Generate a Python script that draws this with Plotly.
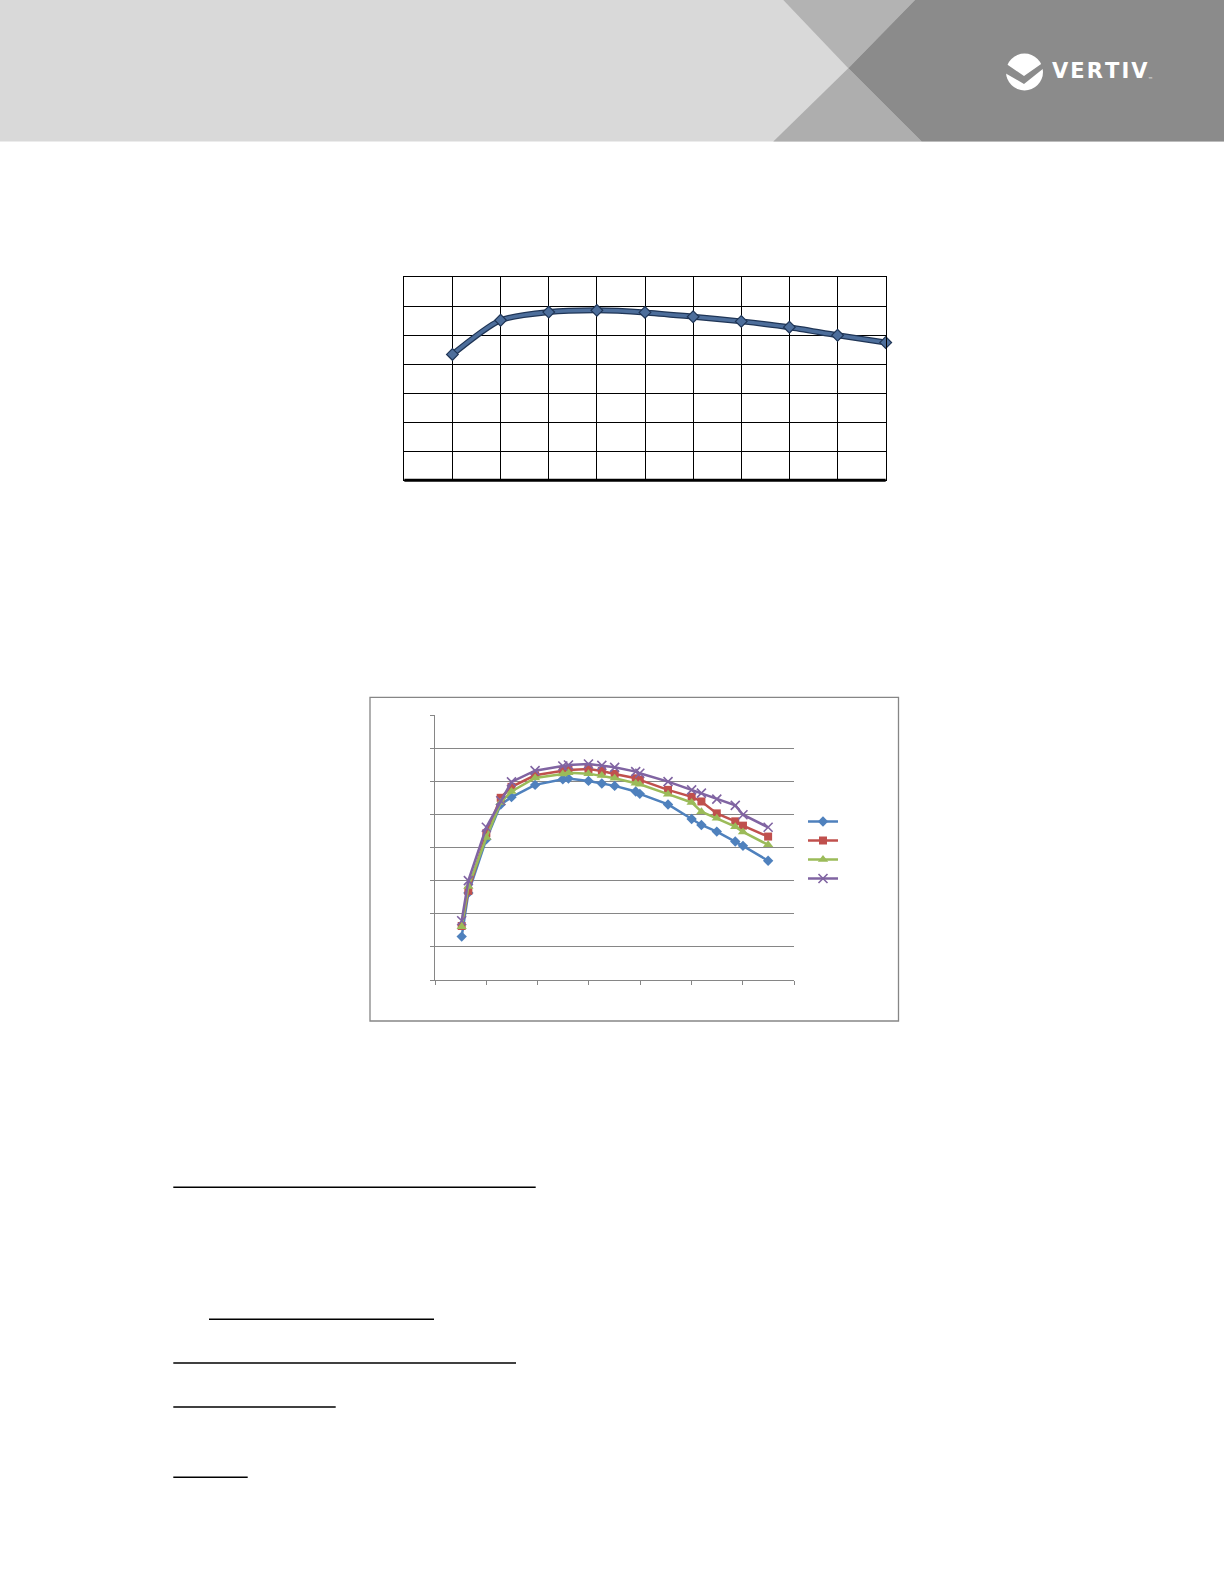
import plotly.graph_objects as go

# page size in px, used to place everything in paper coordinates
W, H = 1224, 1584


def px(x):
    return x / W


def py(y):
    return 1 - y / H


# --- top chart: single curve on a 10 x 7 grid
load_pct = [10, 20, 30, 40, 50, 60, 70, 80, 90, 100]
efficiency = [43.4, 55.2, 58.0, 58.6, 57.9, 56.4, 54.8, 52.8, 50.0, 47.5]

# --- bottom chart: four series against the same x values
x_vals = [5.2, 6.5, 10.0, 12.8, 14.9, 19.5, 24.9, 26.0, 29.9, 32.5,
          35.0, 39.1, 39.9, 45.4, 50.0, 51.9, 54.9, 58.5, 60.0, 64.9]
blue_vals = [13.1, 26.3, 42.5, 53.0, 55.2, 58.9, 60.6, 60.8, 60.1, 59.3,
             58.6, 56.9, 56.2, 53.0, 48.6, 46.8, 44.8, 41.8, 40.5, 36.0]
red_vals = [16.3, 26.9, 44.3, 55.0, 58.3, 61.8, 63.2, 63.4, 63.7, 63.1,
            62.2, 60.9, 60.4, 57.4, 55.3, 53.9, 50.3, 47.9, 46.6, 43.3]
green_vals = [16.1, 28.2, 43.0, 53.6, 56.9, 61.0, 62.2, 62.6, 62.3, 61.7,
              60.9, 59.4, 59.1, 56.1, 53.6, 50.8, 48.8, 46.3, 44.7, 40.8]
purple_vals = [17.9, 30.0, 46.1, 54.1, 59.8, 63.2, 64.6, 64.9, 65.2, 64.8,
               64.2, 62.9, 62.4, 59.9, 57.4, 56.4, 54.6, 52.7, 49.9, 46.1]

series = [
    (blue_vals, "#4f81bd", "diamond", 8),
    (red_vals, "#c0504d", "square", 8),
    (green_vals, "#9bbb59", "triangle-up", 9),
    (purple_vals, "#8064a2", "x-thin", 9),
]

fig = go.Figure()

# top curve: dark outline under a lighter stroke
fig.add_trace(go.Scatter(
    x=load_pct, y=efficiency, mode="lines",
    line=dict(color="#1f3556", width=6, shape="spline", smoothing=0.7),
    showlegend=False, hoverinfo="skip", cliponaxis=False,
))
fig.add_trace(go.Scatter(
    x=load_pct, y=efficiency, mode="lines+markers",
    line=dict(color="#4d6e9b", width=3.5, shape="spline", smoothing=0.7),
    marker=dict(symbol="diamond", size=9, color="#4d6e9b",
                line=dict(color="#1f3556", width=1.2)),
    showlegend=False, cliponaxis=False,
))

for vals, color, symbol, size in series:
    if symbol == "x-thin":
        marker = dict(symbol=symbol, size=size, color=color,
                      line=dict(color=color, width=1.6))
    else:
        marker = dict(symbol=symbol, size=size, color=color)
    fig.add_trace(go.Scatter(
        x=x_vals, y=vals, mode="lines+markers", name="",
        line=dict(color=color, width=2.5),
        marker=marker, xaxis="x2", yaxis="y2", cliponaxis=False,
    ))

shapes = []

# header band
shapes.append(dict(type="rect", xref="paper", yref="paper",
                   x0=0, x1=1, y0=py(141.5), y1=1,
                   fillcolor="#d9d9d9", line=dict(width=0), layer="below"))


def poly(points, fill, layer="below"):
    d = "M " + " L ".join(f"{px(a)},{py(b)}" for a, b in points) + " Z"
    return dict(type="path", xref="paper", yref="paper", path=d,
                fillcolor=fill, line=dict(width=0), layer=layer)


shapes.append(poly([(783.3, 0), (915, 0), (848.3, 68.3)], "#b3b3b3"))
shapes.append(poly([(848.3, 68.3), (921.7, 141.5), (773.3, 141.5)], "#aeaeae"))
shapes.append(poly([(915, 0), (1224, 0), (1224, 141.5), (921.7, 141.5),
                    (848.3, 68.3)], "#8b8b8b"))

# logo mark: white disc with a grey chevron cut through it
shapes.append(dict(type="circle", xref="paper", yref="paper",
                   x0=px(1006), x1=px(1043), y0=py(90.5), y1=py(53.5),
                   fillcolor="white", line=dict(width=0)))
shapes.append(poly([(1005, 63), (1024, 76), (1044, 62), (1044, 68),
                    (1024, 84), (1005, 73)], "#8b8b8b", layer="above"))

# top chart thick base line
shapes.append(dict(type="line", xref="paper", yref="paper",
                   x0=px(404.3), x1=px(885.7), y0=py(480.3), y1=py(480.3),
                   line=dict(color="black", width=3)))

# bottom chart frame
shapes.append(dict(type="rect", xref="paper", yref="paper",
                   x0=px(370), x1=px(898.5), y0=py(1021), y1=py(697.3),
                   line=dict(color="#868686", width=1.3), layer="below"))

# underlines further down the page
for x0, x1, y in [(173.3, 535.7, 1187.3), (209, 434, 1319.3),
                  (173.3, 516, 1363), (173.3, 335.7, 1407),
                  (173.3, 247.7, 1477.3)]:
    shapes.append(dict(type="line", xref="paper", yref="paper",
                       x0=px(x0), x1=px(x1), y0=py(y), y1=py(y),
                       line=dict(color="black", width=1.4)))

annotations = [
    dict(text="<b>V\u200aE\u200aR\u200aT\u200aI\u200aV</b>", x=px(1050),
         y=py(70.5), xref="paper", yref="paper", xanchor="left",
         yanchor="middle", showarrow=False,
         font=dict(family="DejaVu Sans", size=21, color="white")),
    dict(text="™", x=px(1146), y=py(79.5), xref="paper", yref="paper",
         xanchor="left", yanchor="middle", showarrow=False,
         font=dict(family="DejaVu Sans", size=5, color="white")),
]

grid_top = dict(showgrid=True, gridcolor="black", gridwidth=1.3,
                showline=True, linecolor="black", linewidth=1.3, mirror=True,
                zeroline=False, showticklabels=False, ticks="")

fig.update_layout(
    width=W, height=H,
    margin=dict(l=0, r=0, t=0, b=0),
    paper_bgcolor="white", plot_bgcolor="white",
    xaxis=dict(domain=[px(404.3), px(885.7)], range=[0, 100], dtick=10,
               anchor="y", **grid_top),
    yaxis=dict(domain=[py(480.3), py(277.3)], range=[0, 70], dtick=10,
               anchor="x", **grid_top),
    xaxis2=dict(domain=[px(435), px(794.3)], range=[0, 70], dtick=10,
                anchor="y2", showgrid=False, zeroline=False,
                showline=True, linecolor="#868686", linewidth=1,
                ticks="outside", ticklen=4, tickcolor="#868686",
                showticklabels=False),
    yaxis2=dict(domain=[py(980), py(715)], range=[0, 80], dtick=10,
                anchor="x2", showgrid=True, gridcolor="#868686", gridwidth=1,
                zeroline=False, showline=True, linecolor="#868686",
                linewidth=1, ticks="outside", ticklen=4, tickcolor="#868686",
                showticklabels=False),
    showlegend=True,
    legend=dict(x=px(803), y=py(807), xanchor="left", yanchor="top",
                font=dict(size=12, color="white"), bgcolor="rgba(0,0,0,0)",
                tracegroupgap=0),
    shapes=shapes,
    annotations=annotations,
)

# drop the browser's default body margin so the page starts at the corner
fig.write_html("out.html", config={"displayModeBar": False},
               post_script="document.body.style.margin = '0';")
